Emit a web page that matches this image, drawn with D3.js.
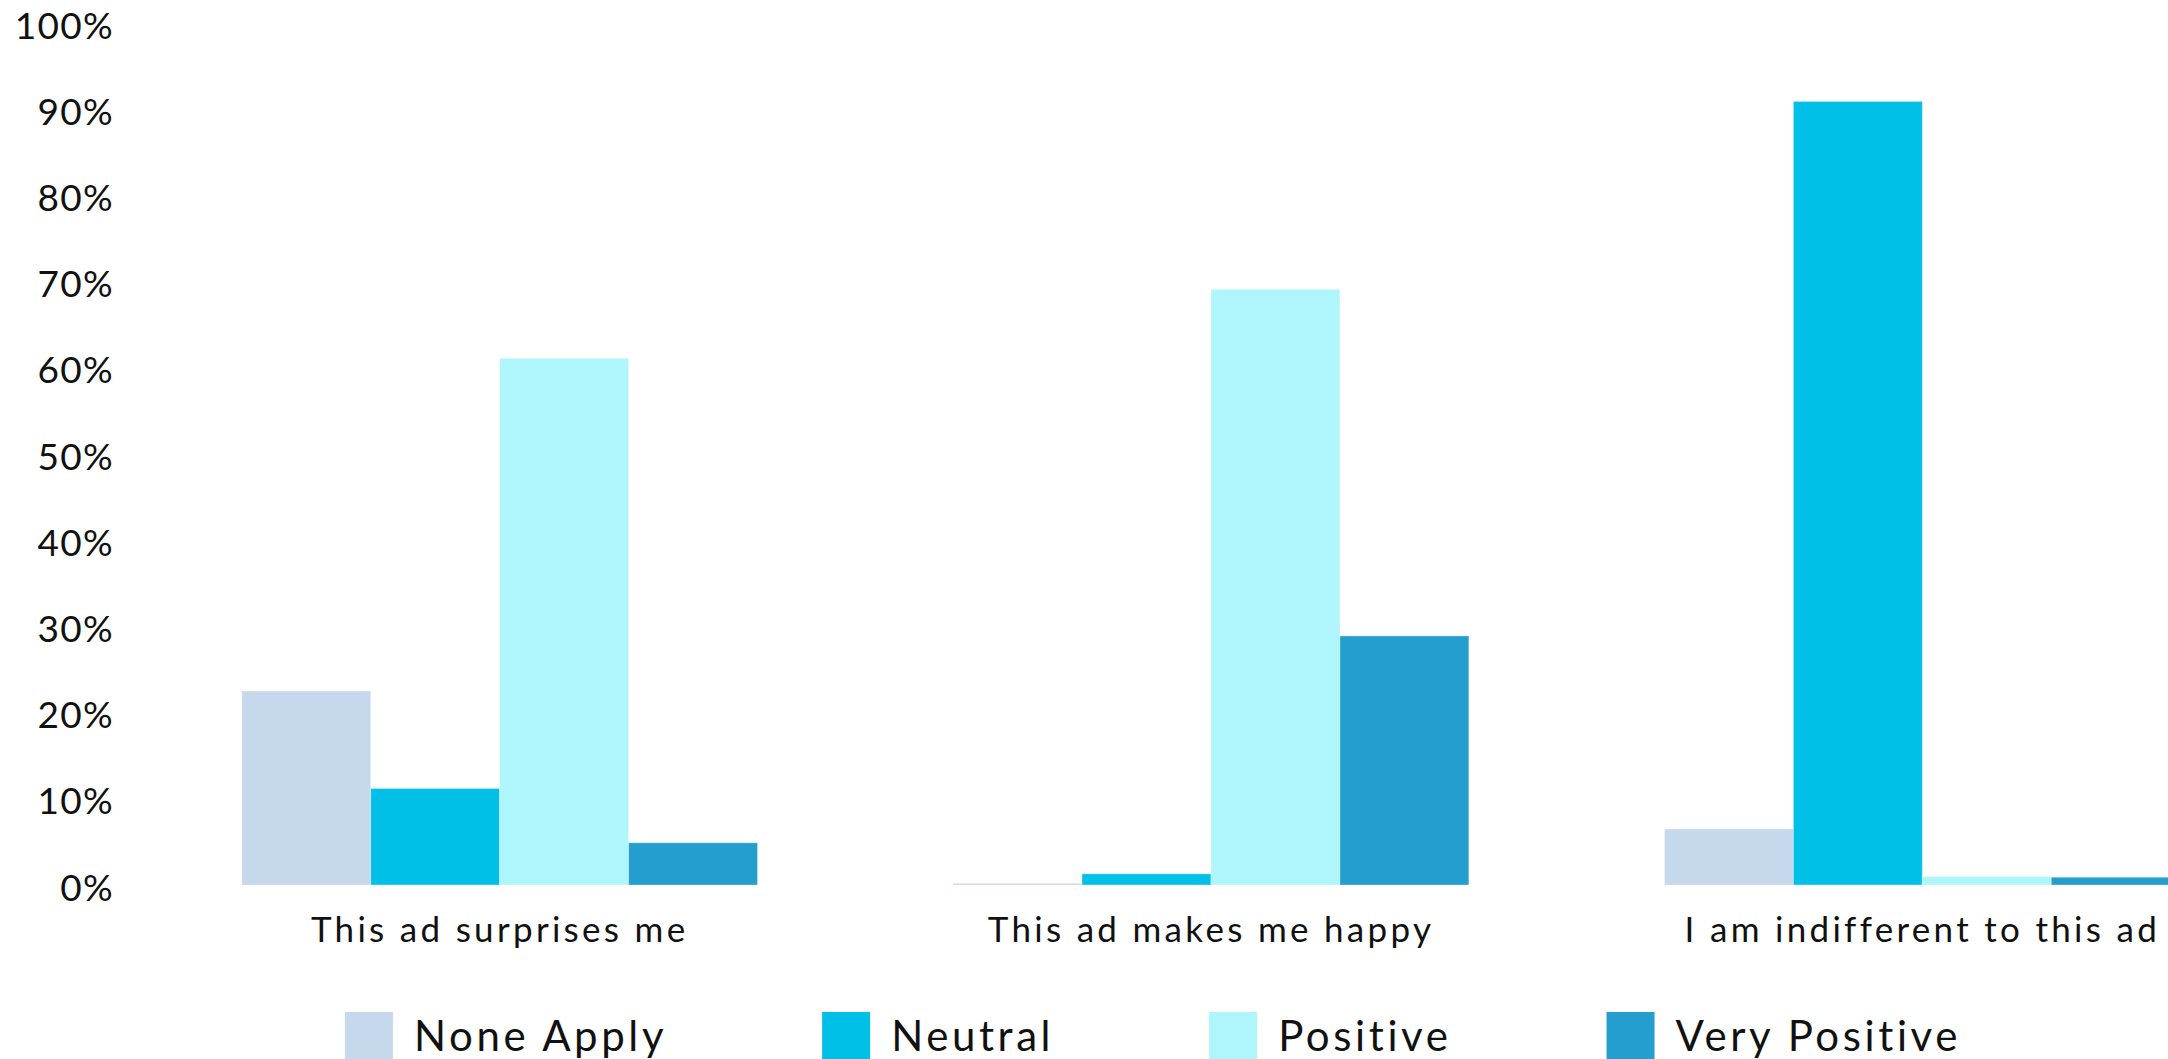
<!DOCTYPE html>
<html>
<head>
<meta charset="utf-8">
<script src="https://cdn.jsdelivr.net/npm/d3@7"></script>
<style>
  html, body { margin: 0; padding: 0; background: #fff; overflow: hidden; }
  svg { display: block; font-family: Lato, 'Open Sans', sans-serif; }
</style>
</head>
<body>
<svg id="chart" width="2168" height="1059"></svg>
<script>
const categories = ['This ad surprises me', 'This ad makes me happy', 'I am indifferent to this ad']
const seriesNames = ['None Apply', 'Neutral', 'Positive', 'Very Positive']
const noneApply = [22.5, 0.2, 6.5]
const neutral = [11.2, 1.3, 90.9]
const positive = [61.1, 69.1, 1.0]
const veryPositive = [4.9, 28.9, 0.9]
const yTicks = [0, 10, 20, 30, 40, 50, 60, 70, 80, 90, 100]

const colors = ['#c5d8ec', '#00c0e8', '#aef6fc', '#239ecf']
const seriesValues = [noneApply, neutral, positive, veryPositive]

const svg = d3.select('svg#chart')

const x0 = d3.scaleBand()
  .domain(categories)
  .range([144, 2278])
  .paddingInner(0.275)
  .paddingOuter(0.1375)

const x1 = d3.scaleBand()
  .domain(seriesNames)
  .range([0, x0.bandwidth()])

const y = d3.scaleLinear()
  .domain([0, 100])
  .range([885, 23])

// y axis, labels only
const yAxis = svg.append('g')
  .attr('transform', 'translate(114,0)')
  .call(d3.axisLeft(y).tickValues(yTicks).tickSize(0).tickPadding(0).tickFormat(d => d + '%'))
yAxis.select('.domain').remove()
yAxis.selectAll('text')
  .attr('dy', 0)
  .attr('y', 15)
  .style('font-size', '37px')
  .style('letter-spacing', '1.3px')
  .style('font-family', 'Lato, sans-serif')
  .style('fill', '#111')

// bars
const rows = categories.map((c, i) => ({
  category: c,
  values: seriesNames.map((s, j) => ({ series: s, value: seriesValues[j][i], color: colors[j] }))
}))

const groups = svg.append('g').selectAll('g')
  .data(rows)
  .enter().append('g')
  .attr('transform', d => `translate(${x0(d.category)},0)`)

groups.selectAll('rect')
  .data(d => d.values)
  .enter().append('rect')
  .attr('x', d => x1(d.series))
  .attr('y', d => y(d.value))
  .attr('width', x1.bandwidth())
  .attr('height', d => y(0) - y(d.value))
  .attr('fill', d => d.color)
  .attr('stroke', '#ffffff')
  .attr('stroke-opacity', 0.35)
  .attr('stroke-width', 1)

// category axis
const xAxis = svg.append('g')
  .attr('transform', `translate(0,${y(0)})`)
  .call(d3.axisBottom(x0).tickSize(0).tickPadding(0))
xAxis.select('.domain').remove()
xAxis.selectAll('text')
  .attr('y', 57)
  .attr('dy', 0)
  .style('font-size', '35px')
  .style('letter-spacing', '3.3px')
  .style('font-family', 'Lato, sans-serif')
  .style('fill', '#111')

// legend
const legend = svg.append('g')
const swatch = 48
const legendY = 1012
let cursor = 0
seriesNames.forEach((name, i) => {
  const g = legend.append('g')
  g.append('rect')
    .attr('x', 0)
    .attr('y', legendY)
    .attr('width', swatch)
    .attr('height', 60)
    .attr('fill', colors[i])
  const t = g.append('text')
    .attr('x', swatch + 21)
    .attr('y', 1051)
    .style('font-size', '42px')
    .style('letter-spacing', '3.6px')
    .style('fill', '#111')
    .text(name)
  const w = swatch + 21 + t.node().getComputedTextLength()
  g.attr('transform', `translate(${cursor},0)`)
  cursor += w + 155
})
const legendWidth = cursor - 155
legend.attr('transform', `translate(${1153 - legendWidth / 2},0)`)
</script>
</body>
</html>
